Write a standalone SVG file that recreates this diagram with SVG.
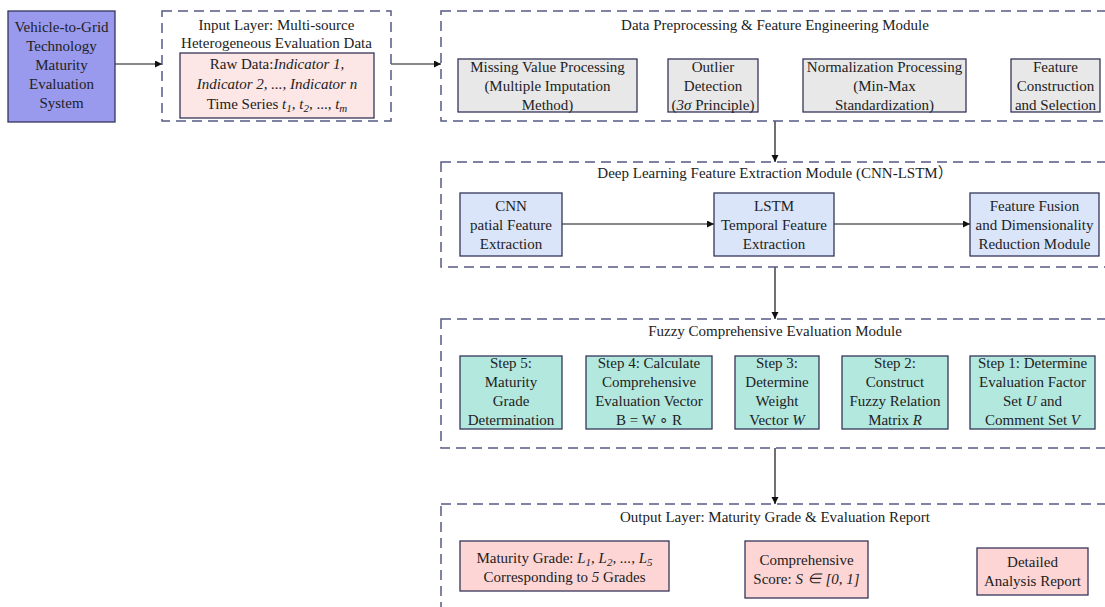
<svg xmlns="http://www.w3.org/2000/svg" width="1105" height="607" viewBox="0 0 1105 607">
<defs>
<marker id="arr" markerUnits="userSpaceOnUse" markerWidth="8" markerHeight="8" refX="7" refY="3.5" orient="auto">
<path d="M0,0 L7,3.5 L0,7 z" fill="#111"/>
</marker>
<style>
.t{font-family:"Liberation Serif","Noto Sans CJK SC",serif;font-size:15px;fill:#222;text-anchor:middle}
.i{font-style:italic}
.s{font-size:11px;font-style:italic}
.dash{fill:none;stroke:#575a85;stroke-width:1.5;stroke-dasharray:10 6}
.box{stroke:#35365a;stroke-width:1.3}
.conn{fill:none;stroke:#111;stroke-width:1.2;marker-end:url(#arr)}
</style>
</defs>
<rect width="1105" height="607" fill="#fff"/>

<g id="connectors">
<line class="conn" x1="115" y1="64" x2="162" y2="64"/>
<line class="conn" x1="391" y1="64" x2="441" y2="64"/>
<line class="conn" x1="775" y1="121" x2="775" y2="162"/>
<line class="conn" x1="562" y1="224" x2="714" y2="224"/>
<line class="conn" x1="834" y1="224" x2="970" y2="224"/>
<line class="conn" x1="775" y1="267" x2="775" y2="319"/>
<line class="conn" x1="775" y1="448" x2="775" y2="504"/>
</g>

<g id="system">
<rect class="box" x="8" y="11" width="107" height="111" fill="#9999ee"/>
<text class="t" x="61.5" y="32">Vehicle-to-Grid</text>
<text class="t" x="61.5" y="51">Technology</text>
<text class="t" x="61.5" y="70">Maturity</text>
<text class="t" x="61.5" y="89">Evaluation</text>
<text class="t" x="61.5" y="108">System</text>
</g>

<g id="input-layer">
<rect class="dash" x="162" y="11" width="229" height="110"/>
<text class="t" x="276.5" y="30">Input Layer: Multi-source</text>
<text class="t" x="276.5" y="48">Heterogeneous Evaluation Data</text>
</g>

<g id="raw-data">
<rect class="box" x="180" y="53" width="194" height="65" fill="#fde6e6"/>
<text class="t" x="277" y="69">Raw Data:<tspan class="i">Indicator 1,</tspan></text>
<text class="t i" x="277" y="89">Indicator 2, ..., Indicator n</text>
<text class="t" x="277" y="109">Time Series <tspan class="i">t</tspan><tspan class="s" dy="3">1</tspan><tspan dy="-3">, </tspan><tspan class="i">t</tspan><tspan class="s" dy="3">2</tspan><tspan dy="-3">, ..., </tspan><tspan class="i">t</tspan><tspan class="s" dy="3">m</tspan></text>
</g>

<g id="preprocessing">
<rect class="dash" x="441" y="11" width="700" height="110"/>
<text class="t" x="775" y="30">Data Preprocessing &amp; Feature Engineering Module</text>
</g>

<g id="missing-value">
<rect class="box" x="458" y="59" width="179" height="53" fill="#e8e8e8"/>
<text class="t" x="547.5" y="71.5">Missing Value Processing</text>
<text class="t" x="547.5" y="90.5">(Multiple Imputation</text>
<text class="t" x="547.5" y="109.5">Method)</text>
</g>

<g id="outlier">
<rect class="box" x="668" y="59" width="90" height="53" fill="#e8e8e8"/>
<text class="t" x="713" y="71.5">Outlier</text>
<text class="t" x="713" y="90.5">Detection</text>
<text class="t" x="713" y="109.5">(<tspan class="i">3σ</tspan> Principle)</text>
</g>

<g id="normalization">
<rect class="box" x="803" y="59" width="163" height="53" fill="#e8e8e8"/>
<text class="t" x="884.5" y="71.5">Normalization Processing</text>
<text class="t" x="884.5" y="90.5">(Min-Max</text>
<text class="t" x="884.5" y="109.5">Standardization)</text>
</g>

<g id="feature-construction">
<rect class="box" x="1011" y="59" width="89" height="53" fill="#e8e8e8"/>
<text class="t" x="1055.5" y="71.5">Feature</text>
<text class="t" x="1055.5" y="90.5">Construction</text>
<text class="t" x="1055.5" y="109.5">and Selection</text>
</g>

<g id="deep-learning">
<rect class="dash" x="441" y="162" width="700" height="105"/>
<text class="t" x="775" y="178">Deep Learning Feature Extraction Module (CNN-LSTM）</text>
</g>

<g id="cnn">
<rect class="box" x="460" y="193" width="102" height="63" fill="#dae5fa"/>
<text class="t" x="511" y="210.5">CNN</text>
<text class="t" x="511" y="229.5">patial Feature</text>
<text class="t" x="511" y="248.5">Extraction</text>
</g>

<g id="lstm">
<rect class="box" x="714" y="193" width="120" height="63" fill="#dae5fa"/>
<text class="t" x="774" y="210.5">LSTM</text>
<text class="t" x="774" y="229.5">Temporal Feature</text>
<text class="t" x="774" y="248.5">Extraction</text>
</g>

<g id="feature-fusion">
<rect class="box" x="970" y="193" width="129" height="63" fill="#dae5fa"/>
<text class="t" x="1034.5" y="210.5">Feature Fusion</text>
<text class="t" x="1034.5" y="229.5">and Dimensionality</text>
<text class="t" x="1034.5" y="248.5">Reduction Module</text>
</g>

<g id="fuzzy">
<rect class="dash" x="441" y="319" width="700" height="129"/>
<text class="t" x="775" y="336">Fuzzy Comprehensive Evaluation Module</text>
</g>

<g id="step5">
<rect class="box" x="460" y="356" width="102" height="73" fill="#b3e8df"/>
<text class="t" x="511" y="368">Step 5:</text>
<text class="t" x="511" y="387">Maturity</text>
<text class="t" x="511" y="406">Grade</text>
<text class="t" x="511" y="425">Determination</text>
</g>

<g id="step4">
<rect class="box" x="586" y="356" width="126" height="73" fill="#b3e8df"/>
<text class="t" x="649" y="368">Step 4: Calculate</text>
<text class="t" x="649" y="387">Comprehensive</text>
<text class="t" x="649" y="406">Evaluation Vector</text>
<text class="t" x="649" y="425">B = W ∘ R</text>
</g>

<g id="step3">
<rect class="box" x="735" y="356" width="84" height="73" fill="#b3e8df"/>
<text class="t" x="777" y="368">Step 3:</text>
<text class="t" x="777" y="387">Determine</text>
<text class="t" x="777" y="406">Weight</text>
<text class="t" x="777" y="425">Vector <tspan class="i">W</tspan></text>
</g>

<g id="step2">
<rect class="box" x="842" y="356" width="106" height="73" fill="#b3e8df"/>
<text class="t" x="895" y="368">Step 2:</text>
<text class="t" x="895" y="387">Construct</text>
<text class="t" x="895" y="406">Fuzzy Relation</text>
<text class="t" x="895" y="425">Matrix <tspan class="i">R</tspan></text>
</g>

<g id="step1">
<rect class="box" x="970" y="356" width="125" height="73" fill="#b3e8df"/>
<text class="t" x="1032.5" y="368">Step 1: Determine</text>
<text class="t" x="1032.5" y="387">Evaluation Factor</text>
<text class="t" x="1032.5" y="406">Set <tspan class="i">U</tspan> and</text>
<text class="t" x="1032.5" y="425">Comment Set <tspan class="i">V</tspan></text>
</g>

<g id="output-layer">
<rect class="dash" x="441" y="504" width="700" height="130"/>
<text class="t" x="775" y="522">Output Layer: Maturity Grade &amp; Evaluation Report</text>
</g>

<g id="maturity-grade">
<rect class="box" x="460" y="541" width="209" height="50" fill="#fdd5d5"/>
<text class="t" x="564.5" y="563">Maturity Grade: <tspan class="i">L</tspan><tspan class="s" dy="3">1</tspan><tspan class="i" dy="-3">, L</tspan><tspan class="s" dy="3">2</tspan><tspan class="i" dy="-3">, ..., L</tspan><tspan class="s" dy="3">5</tspan></text>
<text class="t" x="564.5" y="582">Corresponding to <tspan class="i">5</tspan> Grades</text>
</g>

<g id="score">
<rect class="box" x="745" y="541" width="123" height="57" fill="#fdd5d5"/>
<text class="t" x="806.5" y="565">Comprehensive</text>
<text class="t" x="806.5" y="584">Score: <tspan class="i">S ∈ [0, 1]</tspan></text>
</g>

<g id="report">
<rect class="box" x="977" y="548" width="111" height="47" fill="#fdd5d5"/>
<text class="t" x="1032.5" y="567">Detailed</text>
<text class="t" x="1032.5" y="586">Analysis Report</text>
</g>
</svg>
